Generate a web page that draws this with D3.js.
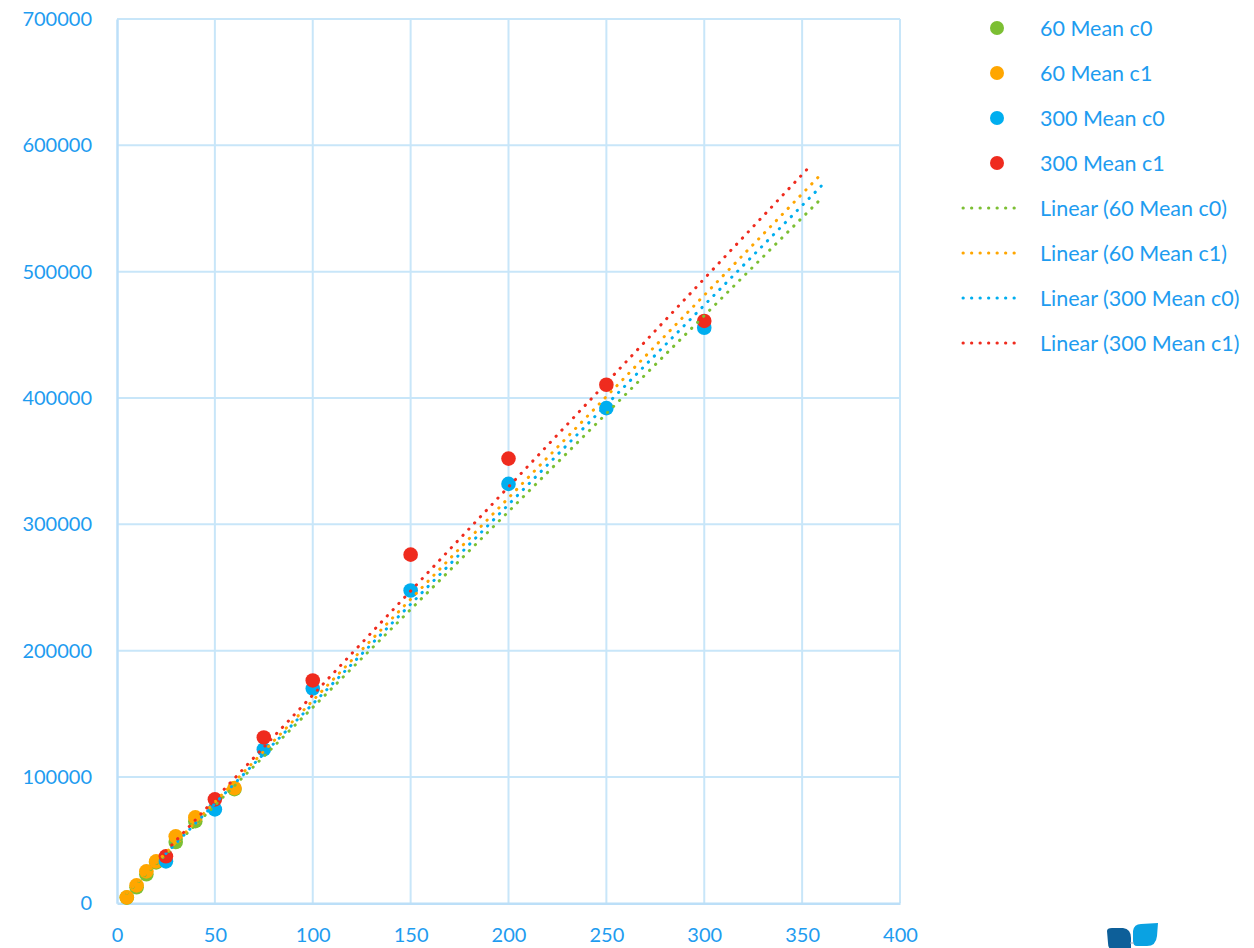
<!DOCTYPE html>
<html><head><meta charset="utf-8">
<script src="https://cdn.jsdelivr.net/npm/d3@7"></script>
<style>html,body{margin:0;padding:0;background:#fff;}svg{display:block;}</style>
</head><body>
<svg id="chart" width="1254" height="948"></svg>
<script>
// ---- data ----
const x60 = [5, 10, 15, 20, 30, 40, 60];
const mean60c0 = [4500, 12700, 23000, 32400, 48500, 65000, 90400];
const mean60c1 = [4700, 14200, 25300, 33200, 53000, 68000, 91200];
const x300 = [25, 50, 75, 100, 150, 200, 250, 300];
const mean300c0 = [33200, 74300, 121800, 170000, 247600, 332000, 392000, 455600];
const mean300c1 = [37200, 82300, 131300, 176400, 276000, 352000, 410500, 461000];
const seriesNames = ["60 Mean c0", "60 Mean c1", "300 Mean c0", "300 Mean c1"];
const trendEnds = [360, 360, 360, 355];
const xTicks = [0, 50, 100, 150, 200, 250, 300, 350, 400];
const yTicks = [0, 100000, 200000, 300000, 400000, 500000, 600000, 700000];

const colors = ["#7cbf33", "#ffa600", "#00aeef", "#ef2b1e"];
const textColor = "#1e9cf0";
const font = "Lato, 'Open Sans', sans-serif";

const series = [
  {name: seriesNames[0], xs: x60, ys: mean60c0, end: trendEnds[0], color: colors[0]},
  {name: seriesNames[1], xs: x60, ys: mean60c1, end: trendEnds[1], color: colors[1]},
  {name: seriesNames[2], xs: x300, ys: mean300c0, end: trendEnds[2], color: colors[2]},
  {name: seriesNames[3], xs: x300, ys: mean300c1, end: trendEnds[3], color: colors[3]},
];

const svg = d3.select("#chart");
const L = 117, R = 900, T = 19, B = 903.3;
const x = d3.scaleLinear().domain([0, 400]).range([L, R]);
const y = d3.scaleLinear().domain([0, 700000]).range([B, T]);

// gridlines
const grid = svg.append("g");
grid.selectAll("line.v").data(xTicks.slice(1)).join("line")
  .attr("x1", d => x(d)).attr("x2", d => x(d)).attr("y1", T).attr("y2", B)
  .attr("stroke", "#c8e6f9").attr("stroke-width", 2);
grid.selectAll("line.h").data(yTicks.slice(1)).join("line")
  .attr("x1", L).attr("x2", R).attr("y1", d => y(d)).attr("y2", d => y(d))
  .attr("stroke", "#c8e6f9").attr("stroke-width", 2);

// axes
const xAxis = svg.append("g").attr("transform", `translate(0,${B})`)
  .call(d3.axisBottom(x).tickValues(xTicks).tickSize(0).tickPadding(25).tickFormat(d3.format("d")));
const yAxis = svg.append("g").attr("transform", `translate(${L},0)`)
  .call(d3.axisLeft(y).tickValues(yTicks).tickSize(0).tickPadding(25).tickFormat(d3.format("d")));
[xAxis, yAxis].forEach(a => {
  a.select(".domain").attr("stroke", "#bcdff8").attr("stroke-width", 2.5);
  a.selectAll("text").attr("fill", textColor).style("font-family", font).style("font-size", "20px");
});
xAxis.selectAll("text").attr("dy", "0.71em");

// markers
series.forEach(s => {
  svg.append("g").selectAll("circle").data(s.xs.map((v, i) => [v, s.ys[i]])).join("circle")
    .attr("cx", d => x(d[0])).attr("cy", d => y(d[1])).attr("r", 7.3)
    .attr("fill", s.color);
});

// linear trendlines (intercept fixed at 0)
series.forEach(s => {
  const sxy = d3.sum(s.xs, (v, i) => v * s.ys[i]);
  const sxx = d3.sum(s.xs, v => v * v);
  const slope = sxy / sxx;
  const x0 = d3.min(s.xs);
  svg.append("line")
    .attr("x1", x(x0)).attr("y1", y(slope * x0))
    .attr("x2", x(s.end)).attr("y2", y(slope * s.end))
    .attr("stroke", s.color).attr("stroke-width", 3)
    .attr("stroke-linecap", "round").attr("stroke-dasharray", "0.3 8.2");
});

// legend
const leg = svg.append("g");
const rowY = i => 28 + i * 45;
const legFont = "21.5px";
series.forEach((s, i) => {
  leg.append("circle").attr("cx", 997).attr("cy", rowY(i)).attr("r", 7).attr("fill", s.color);
  leg.append("text").attr("x", 1040).attr("y", rowY(i)).attr("dy", "0.35em")
    .attr("fill", textColor).style("font-family", font).style("font-size", legFont).text(s.name);
});
series.forEach((s, i) => {
  const yy = rowY(i + 4);
  leg.append("line").attr("x1", 963).attr("x2", 1022).attr("y1", yy).attr("y2", yy)
    .attr("stroke", s.color).attr("stroke-width", 3)
    .attr("stroke-linecap", "round").attr("stroke-dasharray", "0.3 8.2");
  leg.append("text").attr("x", 1040).attr("y", yy).attr("dy", "0.35em")
    .attr("fill", textColor).style("font-family", font).style("font-size", legFont)
    .text(`Linear (${s.name})`);
});

// small logo bottom-right
const logo = svg.append("g");
logo.append("path").attr("d", "M1107,931 Q1107,928 1112,928 L1123,928 Q1131,929 1131,938 L1131,950 L1114,950 Q1108,950 1108,943 Z")
  .attr("fill", "#0d5f99");
logo.append("path").attr("d", "M1133,931 Q1134,924 1141,924 L1158,923 L1157,936 Q1156,946 1147,946 L1137,946 Q1133,946 1133,941 Z")
  .attr("fill", "#0aa2e2");
logo.append("line").attr("x1", 1130).attr("x2", 1134).attr("y1", 943).attr("y2", 943)
  .attr("stroke", "#9ab").attr("stroke-width", 1);
</script>
</body></html>
